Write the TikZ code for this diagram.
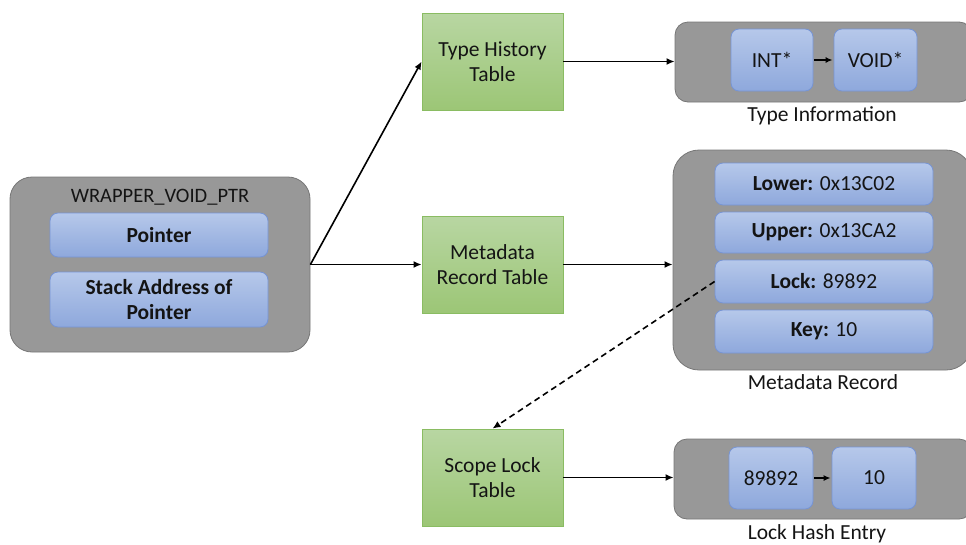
\documentclass[tikz,border=0pt]{standalone}
\usepackage{fontspec}
\setmainfont{Carlito}
\usetikzlibrary{arrows.meta}
\definecolor{grayfill}{RGB}{152,152,152}
\definecolor{grayline}{RGB}{118,118,118}
\definecolor{bluetop}{RGB}{182,200,234}
\definecolor{bluebot}{RGB}{142,168,220}
\definecolor{blueline}{RGB}{118,148,212}
\definecolor{greentop}{RGB}{184,214,162}
\definecolor{greenbot}{RGB}{156,198,118}
\definecolor{greenline}{RGB}{138,188,98}
\definecolor{txt}{RGB}{20,20,20}
\tikzset{
  graybox/.style={draw=grayline, line width=0.8pt, fill=grayfill, inner sep=0pt},
  bluebox/.style={draw=blueline, line width=0.8pt, top color=bluetop, bottom color=bluebot,
    rounded corners=8pt, inner sep=0pt, align=center, text=txt, font=\fontsize{21.5}{25}\selectfont},
  greenbox/.style={draw=greenline, line width=0.8pt, top color=greentop, bottom color=greenbot,
    minimum width=141pt, minimum height=97pt, inner sep=0pt, align=center, text=txt,
    font=\fontsize{21.5}{25}\selectfont},
  caption/.style={text=txt, font=\fontsize{21.5}{25}\selectfont, inner sep=0pt},
  conn/.style={line width=1.6pt, -{Latex[length=8pt,width=7pt]}},
  smallconn/.style={line width=1.6pt, -{Latex[length=7pt,width=6pt]}, shorten <=1pt, shorten >=1pt},
}
\begin{document}
\begin{tikzpicture}[x=1pt,y=-1pt]
\useasboundingbox (0,0) rectangle (966,544);
\clip (0,0) rectangle (966,544);

% left wrapper
\node[graybox, rounded corners=22pt, minimum width=300pt, minimum height=175pt] (wrap) at (160,264.5) {};
\node[caption, font=\fontsize{20.5}{24}\selectfont] (wraplab) at (160,197) {WRAPPER\_VOID\_PTR};
\node[bluebox, minimum width=218pt, minimum height=44pt] (ptr) at (159,235) {\textbf{Pointer}};
\node[bluebox, minimum width=218pt, minimum height=55pt] (stack) at (159,299.5) {\textbf{Stack Address of}\\\textbf{Pointer}};

% green tables
\node[greenbox] (tht) at (492.5,61.5) {Type History\\Table};
\node[greenbox] (mrt) at (492.5,264.5) {Metadata\\Record Table};
\node[greenbox] (slt) at (492.5,477.5) {Scope Lock\\Table};

% type information
\node[graybox, rounded corners=13pt, minimum width=297pt, minimum height=80pt] (ti) at (823.5,62) {};
\node[bluebox, minimum width=82pt, minimum height=62pt] (int) at (772,60) {INT*};
\node[bluebox, minimum width=83pt, minimum height=62pt] (void) at (875.5,60) {VOID*};
\node[caption] (tilab) at (822,116) {Type Information};

% metadata record
\node[graybox, rounded corners=26pt, minimum width=299pt, minimum height=220pt] (md) at (822.5,260) {};
\node[bluebox, minimum width=218pt, minimum height=42pt] (lower) at (824,184) {\textbf{Lower:} 0x13C02};
\node[bluebox, minimum width=218pt, minimum height=41pt] (upper) at (824,232.5) {\textbf{Upper:} 0x13CA2};
\node[bluebox, minimum width=218pt, minimum height=43pt] (lock) at (824,281.5) {\textbf{Lock:} 89892};
\node[bluebox, minimum width=218pt, minimum height=43pt] (key) at (824,331.5) {\textbf{Key:} 10};
\node[caption] (mdlab) at (823,382) {Metadata Record};

% lock hash entry
\node[graybox, rounded corners=13pt, minimum width=298pt, minimum height=80pt] (lh) at (823,479) {};
\node[bluebox, minimum width=84pt, minimum height=62pt] (hash) at (771,478) {89892};
\node[bluebox, minimum width=84pt, minimum height=62pt] (ten) at (874,478) {10};
\node[caption] (lhlab) at (817,534) {Lock Hash Entry};

% connectors
\draw[conn] (wrap.east) -- (tht.west);
\draw[conn] (wrap.east) -- (mrt.west);
\draw[conn] (tht.east) -- (tht.east -| ti.west);
\draw[conn] (mrt.east) -- (mrt.east -| md.west);
\draw[conn] (slt.east) -- (slt.east -| lh.west);
\draw[conn, dashed, dash pattern=on 6pt off 4pt] (lock.west) -- (slt.north);
\draw[smallconn] (int.east) -- (void.west);
\draw[smallconn] (hash.east) -- (ten.west);
\end{tikzpicture}
\end{document}
